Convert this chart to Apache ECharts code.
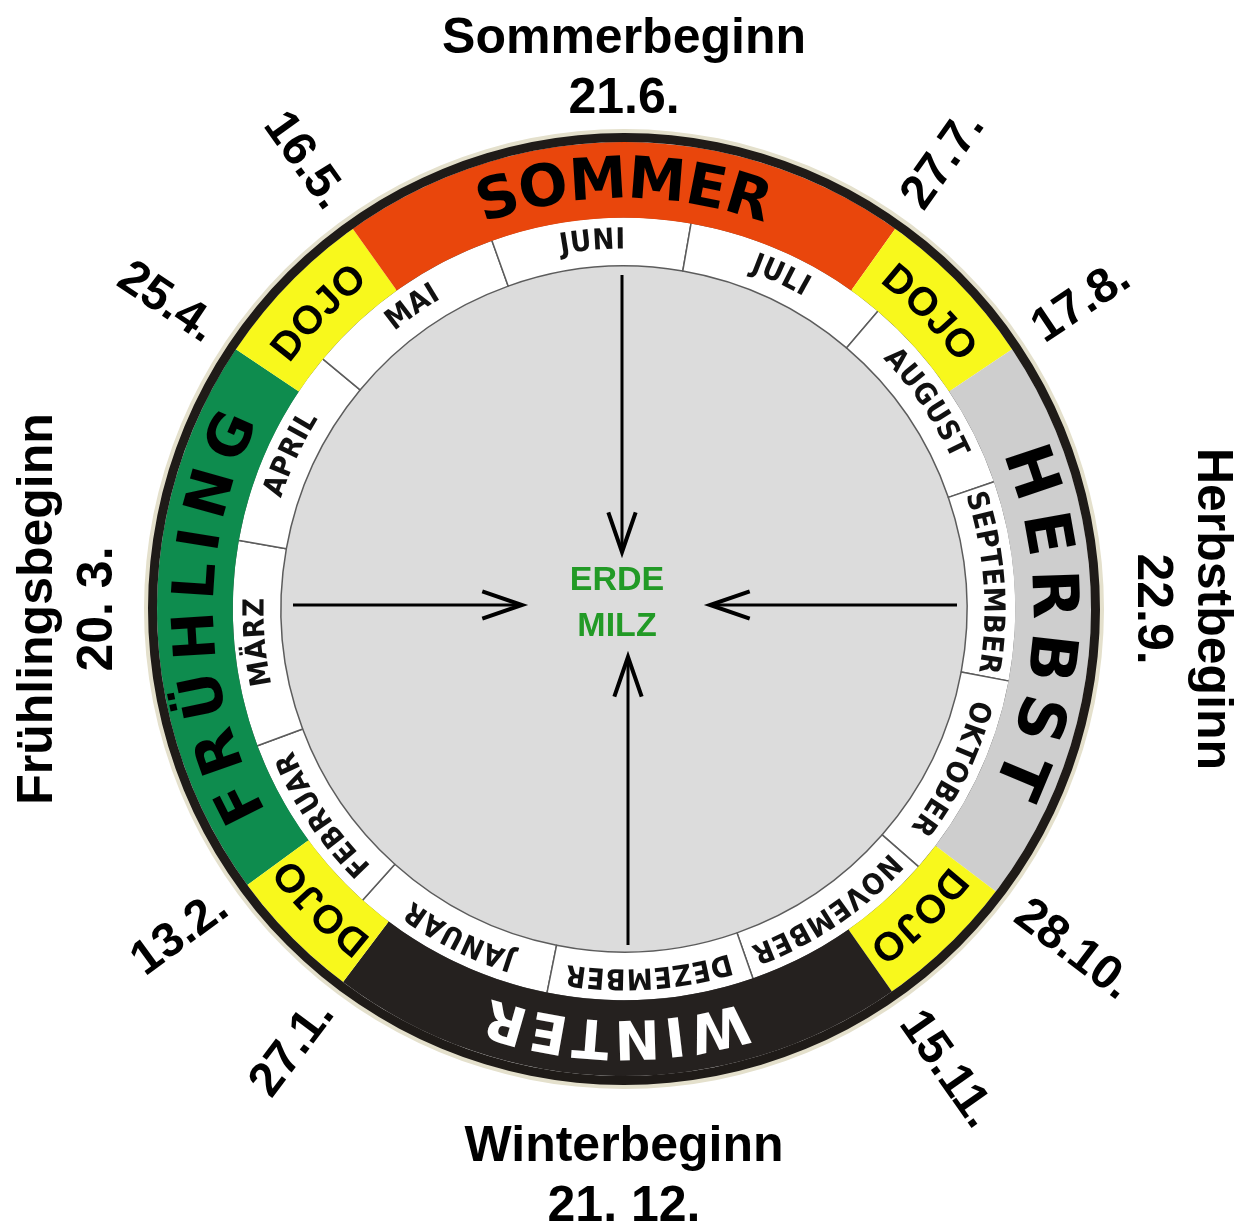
<!DOCTYPE html>
<html>
<head>
<meta charset="utf-8">
<script src="https://cdn.jsdelivr.net/npm/echarts@6/dist/echarts.min.js"></script>
<style>
  html, body { margin: 0; background: #fff; }
  #chart { width: 1245px; height: 1228px; }
</style>
</head>
<body>
<div id="chart"></div>
<script>
// --- data ---
const months = ['JANUAR', 'FEBRUAR', 'MÄRZ', 'APRIL', 'MAI', 'JUNI', 'JULI', 'AUGUST', 'SEPTEMBER', 'OKTOBER', 'NOVEMBER', 'DEZEMBER']
const monthDays = [31, 28, 31, 30, 31, 30, 31, 31, 30, 31, 30, 31]

// outer ring: each segment starts at the date written next to it
const seasons = ['FRÜHLING', 'DOJO', 'SOMMER', 'DOJO', 'HERBST', 'DOJO', 'WINTER', 'DOJO']
const seasonStartDates = ['13.2.', '25.4.', '16.5.', '27.7.', '17.8.', '28.10.', '15.11.', '27.1.']

// captions at the four quarter points (left, top, right, bottom)
const beginNames = ['Frühlingsbeginn', 'Sommerbeginn', 'Herbstbeginn', 'Winterbeginn']
const beginDates = ['20. 3.', '21.6.', '22.9.', '21. 12.']

const centerLines = ['ERDE', 'MILZ']

// --- geometry / styles ---
const CX = 624, CY = 609
const R_GRAY = 343, R_MONTH = 392, R_SEASON = 467, R_RIM = 476, R_SHADOW = 480
const R_MONTH_TEXT = 368, R_SEASON_TEXT = 426, R_DATE = 497, R_BEGIN = 556
const BEGIN_SHIFT = [0, -16, 2, 12] // small radial nudges for the four outer captions
const R_POLAR = 600
const YEAR = 365

const seasonColors = {
  'FRÜHLING': '#0e8c4e',
  'DOJO': '#f8f81c',
  'SOMMER': '#e9460c',
  'HERBST': '#cecece',
  'WINTER': '#25211f',
}

const SANS = '"Liberation Sans", Arial, sans-serif'
const NARROW = '"Liberation Sans Narrow", "DejaVu Sans Condensed", "Liberation Sans", sans-serif'
const HEAVY = '"DejaVu Sans", sans-serif'

const seasonFont = {
  'FRÜHLING': { family: HEAVY, size: 58, weight: 'bold', spacing: 12, color: '#000' },
  'HERBST': { family: HEAVY, size: 64, weight: 'bold', spacing: 14, color: '#000' },
  'SOMMER': { family: HEAVY, size: 58, weight: 'bold', spacing: 1, color: '#000' },
  'WINTER': { family: HEAVY, size: 54, weight: 'bold', spacing: 5, color: '#fff' },
  'DOJO': { family: SANS, size: 40, weight: 'bold', spacing: 1, color: '#000' },
}
const monthFont = { family: NARROW, size: 29, weight: 'bold', spacing: 1, color: '#111' }

// --- helpers ---
const cum = monthDays.map((d, i) => monthDays.slice(0, i).reduce((a, b) => a + b, 0))

function dayOf(s) {
  const p = s.split('.')
  return cum[parseInt(p[1], 10) - 1] + parseInt(p[0], 10) - 1
}

const TOP_DAY = dayOf(beginDates[1]) // Sommerbeginn sits at the top

// clockwise angle from 12 o'clock, in (-180, 180]
function theta(day) {
  const t = (day - TOP_DAY) * 360 / YEAR
  return ((t % 360) + 540) % 360 - 180
}

function wrapDay(d) {
  return ((d % YEAR) + YEAR) % YEAR
}

const measure = document.createElement('canvas').getContext('2d')

// letters spread along the arc, tops facing outwards
function arcItems(text, midDay, r, st) {
  measure.font = `${st.weight} ${st.size}px ${st.family}`
  const chars = Array.from(text)
  const w = chars.map(c => measure.measureText(c).width)
  const total = w.reduce((a, b) => a + b, 0) + st.spacing * (chars.length - 1)
  let s = -total / 2
  return chars.map((c, i) => {
    const m = s + w[i] / 2
    s += w[i] + st.spacing
    const day = wrapDay(midDay + (m / r) * YEAR / (2 * Math.PI))
    return {
      name: c,
      value: [r, day],
      label: {
        rotate: -theta(day),
        fontFamily: st.family,
        fontSize: st.size,
        fontWeight: st.weight,
        color: st.color,
      },
    }
  })
}

// --- rings ---
const seasonSpans = seasonStartDates.map((d, i) => {
  const next = seasonStartDates[(i + 1) % seasonStartDates.length]
  return wrapDay(dayOf(next) - dayOf(d))
})

function ring(r0, r1, data, startDay, extra) {
  return Object.assign({
    type: 'pie',
    center: [CX, CY],
    radius: [r0, r1],
    startAngle: 90 - theta(startDay),
    clockwise: true,
    silent: true,
    animation: false,
    label: { show: false },
    labelLine: { show: false },
    emphasis: { disabled: true },
    data,
  }, extra || {})
}

const series = [
  ring(R_RIM - 2, R_SHADOW, [{ value: 1, itemStyle: { color: '#e4e0cc' } }], 0),
  ring(0, R_GRAY, [{ value: 1, itemStyle: { color: '#dcdcdc' } }], 0),
  ring(R_GRAY, R_MONTH, months.map((m, i) => ({
    name: m,
    value: monthDays[i],
    itemStyle: { color: '#ffffff', borderColor: '#5c5c5c', borderWidth: 1.5 },
  })), 0),
  ring(R_MONTH - 0.8, R_SEASON, seasons.map((s, i) => ({
    name: s,
    value: seasonSpans[i],
    itemStyle: { color: seasonColors[s] },
  })), dayOf(seasonStartDates[0])),
  ring(R_SEASON, R_RIM, [{ value: 1, itemStyle: { color: '#1f1b18' } }], 0),
]

// --- texts ---
const textItems = []

months.forEach((m, i) => {
  textItems.push(...arcItems(m, cum[i] + monthDays[i] / 2, R_MONTH_TEXT, monthFont))
})

seasons.forEach((s, i) => {
  const mid = dayOf(seasonStartDates[i]) + seasonSpans[i] / 2
  textItems.push(...arcItems(s, wrapDay(mid), R_SEASON_TEXT, seasonFont[s]))
})

seasonStartDates.forEach(d => {
  const day = dayOf(d)
  const t = theta(day)
  const right = t >= 0
  textItems.push({
    name: d,
    value: [R_DATE, day],
    label: {
      rotate: right ? 90 - t : -90 - t,
      align: right ? 'left' : 'right',
      fontFamily: SANS,
      fontSize: 48,
      fontWeight: 'bold',
      color: '#000',
    },
  })
})

beginNames.forEach((n, i) => {
  // quarter points: left, top, right, bottom
  const day = wrapDay(TOP_DAY + (i - 1) * YEAR / 4)
  const t = theta(day)
  let rot = -t
  if (Math.abs(t) > 135) rot += 180
  textItems.push({
    name: n + '\n' + beginDates[i],
    value: [R_BEGIN + BEGIN_SHIFT[i], day],
    label: {
      rotate: rot,
      fontFamily: SANS,
      fontSize: 50,
      fontWeight: 'bold',
      lineHeight: 60,
      color: '#000',
    },
  })
})

textItems.push({
  name: centerLines.join('\n'),
  value: [0, 0],
  label: {
    offset: [-7, -5],
    fontFamily: SANS,
    fontSize: 34,
    fontWeight: 'bold',
    lineHeight: 46,
    color: '#229a26',
  },
})

series.push({
  type: 'scatter',
  coordinateSystem: 'polar',
  silent: true,
  clip: false,
  animation: false,
  symbolSize: 1,
  itemStyle: { color: 'rgba(0,0,0,0)', opacity: 1 },
  label: { show: true, position: 'inside', formatter: '{b}', opacity: 1 },
  data: textItems,
  z: 5,
})

// --- arrows pointing to the centre ---
const arrows = [
  { angle: 0, from: 334, to: 57, off: -2 },
  { angle: 90, from: 333, to: 86, off: -4 },
  { angle: 180, from: 336, to: 48, off: 4 },
  { angle: 270, from: 331, to: 102, off: -4 },
]

function arrowShapes(a) {
  const rad = a.angle * Math.PI / 180
  const ux = Math.sin(rad), uy = -Math.cos(rad)
  const px = a.angle % 180 === 0 ? a.off : 0
  const py = a.angle % 180 === 0 ? 0 : a.off
  const tip = [CX + ux * a.to + px, CY + uy * a.to + py]
  const start = [CX + ux * a.from + px, CY + uy * a.from + py]
  const arm = (sign) => {
    const s = sign * 19 * Math.PI / 180
    const vx = ux * Math.cos(s) - uy * Math.sin(s)
    const vy = ux * Math.sin(s) + uy * Math.cos(s)
    return [tip[0] + vx * 42, tip[1] + vy * 42]
  }
  return [
    { type: 'polyline', shape: { points: [start, tip] }, style: { stroke: '#000', lineWidth: 3, fill: null } },
    { type: 'polyline', shape: { points: [arm(1), tip, arm(-1)] }, style: { stroke: '#000', lineWidth: 4, fill: null } },
  ]
}

const chart = echarts.init(document.getElementById('chart'))
chart.setOption({
  animation: false,
  backgroundColor: '#ffffff',
  polar: { center: [CX, CY], radius: R_POLAR },
  angleAxis: {
    type: 'value',
    min: 0,
    max: YEAR,
    startAngle: 90 - theta(0),
    clockwise: true,
    show: false,
  },
  radiusAxis: { type: 'value', min: 0, max: R_POLAR, show: false },
  series,
  graphic: arrows.flatMap(arrowShapes).map(g => Object.assign(g, { z: 10, silent: true })),
})
</script>
</body>
</html>
